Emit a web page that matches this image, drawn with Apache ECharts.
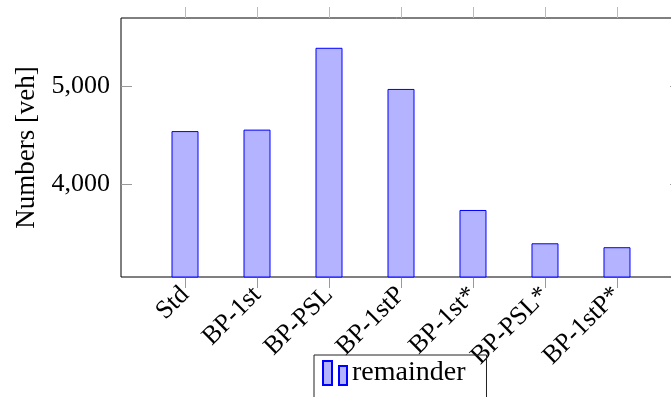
<!DOCTYPE html>
<html>
<head>
<meta charset="utf-8">
<script src="https://cdn.jsdelivr.net/npm/echarts@6/dist/echarts.min.js"></script>
<style>
  html, body { margin: 0; padding: 0; background: #fff; }
  #chart { width: 671px; height: 397px; }
</style>
</head>
<body>
<div id="chart"></div>
<script>
// data
const categories = ['Std', 'BP-1st', 'BP-PSL', 'BP-1stP', 'BP-1st*', 'BP-PSL*', 'BP-1stP*'];
const remainder = [4540, 4555, 5390, 4970, 3735, 3395, 3355];
const yTicks = [4000, 5000];
const xTicks = [0, 1, 2, 3, 4, 5, 6];

const font = 'Liberation Serif';

let chart = echarts.init(document.getElementById('chart'), null, { renderer: 'canvas' });

let options = {
  animation: false,
  grid: {
    left: 121,
    width: 560,
    top: 18,
    bottom: 120,
    outerBoundsMode: 'none',
    containLabel: false,
    show: true,
    borderColor: '#000',
    borderWidth: 1
  },
  legend: {
    left: 314,
    top: 355,
    padding: [4, 21, 30, 8],
    borderColor: '#222',
    borderWidth: 1,
    itemWidth: 24,
    itemHeight: 24,
    itemGap: 4,
    icon: 'path://M0,0 h9 v24 h-9 z M16,5 h8 v19 h-8 z',
    textStyle: { fontFamily: font, fontSize: 28, color: '#000' },
    data: ['remainder']
  },
  xAxis: [
    {
      type: 'value',
      min: -0.889,
      max: 6.889,
      position: 'bottom',
      axisLine: { show: false, onZero: false },
      splitLine: { show: false },
      axisTick: {
        show: true,
        inside: false,
        length: 11,
        customValues: xTicks,
        lineStyle: { color: '#999' }
      },
      axisLabel: {
        rotate: 45,
        margin: 14,
        customValues: xTicks,
        fontFamily: font,
        fontSize: 26,
        color: '#000',
        formatter: v => categories[Math.round(v)]
      }
    },
    {
      type: 'value',
      min: -0.889,
      max: 6.889,
      position: 'top',
      axisLine: { show: false, onZero: false },
      splitLine: { show: false },
      axisTick: {
        show: true,
        inside: false,
        length: 11,
        customValues: xTicks,
        lineStyle: { color: '#bbb' }
      },
      axisLabel: { show: false }
    }
  ],
  yAxis: [
    {
      type: 'value',
      min: 3051,
      max: 5694,
      position: 'left',
      name: 'Numbers [veh]',
      nameLocation: 'middle',
      nameGap: 80,
      nameTextStyle: { fontFamily: font, fontSize: 27, color: '#000' },
      axisLine: { show: false, onZero: false },
      splitLine: { show: false },
      axisTick: {
        show: true,
        inside: true,
        length: 11,
        customValues: yTicks,
        lineStyle: { color: '#999' }
      },
      axisLabel: {
        margin: 11,
        customValues: yTicks,
        fontFamily: font,
        fontSize: 26,
        color: '#000',
        formatter: v => v.toLocaleString('en-US')
      }
    },
    {
      type: 'value',
      min: 3051,
      max: 5694,
      position: 'right',
      axisLine: { show: false, onZero: false },
      splitLine: { show: false },
      axisTick: {
        show: true,
        inside: true,
        length: 11,
        customValues: yTicks,
        lineStyle: { color: '#999' }
      },
      axisLabel: { show: false }
    }
  ],
  series: [
    {
      name: 'remainder',
      type: 'bar',
      xAxisIndex: 0,
      yAxisIndex: 0,
      barWidth: 27,
      data: remainder.map((v, i) => [xTicks[i], v]),
      itemStyle: {
        color: '#b3b3ff',
        borderColor: '#0000ff',
        borderWidth: 1
      }
    }
  ]
};

chart.setOption(options);
</script>
</body>
</html>
